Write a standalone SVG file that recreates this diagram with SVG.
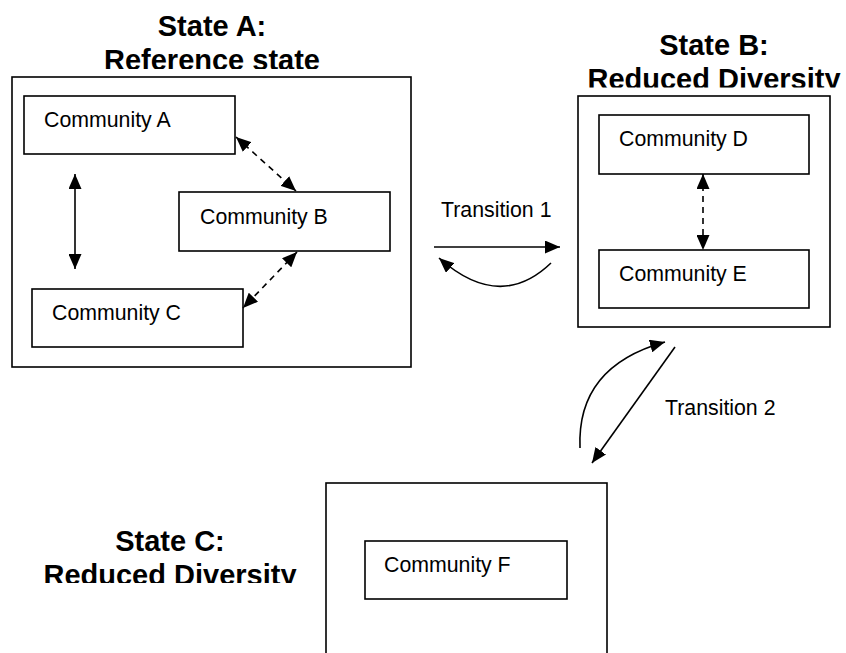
<svg xmlns="http://www.w3.org/2000/svg" width="846" height="653" viewBox="0 0 846 653">
  <style>
    .frame { fill: #fff; stroke: #000; stroke-width: 1.6; }
    .box { fill: #fff; stroke: #000; stroke-width: 1.6; }
    .title { font-family: "Liberation Sans", Arial, sans-serif; font-weight: bold; font-size: 29px; fill: #000; text-anchor: middle; }
    .label { font-family: "Liberation Sans", Arial, sans-serif; font-size: 21.3px; fill: #000; }
    .link { fill: none; stroke: #000; stroke-width: 1.6; }
    .dash { stroke-dasharray: 6 5; }
  </style>
  <defs>
    <marker id="head" markerUnits="userSpaceOnUse" markerWidth="16" markerHeight="13" refX="15" refY="6.5" orient="auto-start-reverse">
      <path d="M0,0 L15,6.5 L0,13 z" fill="#000"/>
    </marker>
    <clipPath id="clipA"><rect x="0" y="0" width="846" height="69"/></clipPath>
    <clipPath id="clipB"><rect x="0" y="0" width="846" height="87.5"/></clipPath>
    <clipPath id="clipC"><rect x="0" y="500" width="846" height="83"/></clipPath>
  </defs>

  <!-- State A: reference state -->
  <g id="stateA">
    <g clip-path="url(#clipA)">
      <text class="title" x="212" y="36">State A:</text>
      <text class="title" x="212" y="70">Reference state</text>
    </g>
    <rect class="frame" x="12" y="77" width="399" height="290"/>
  </g>
  <g id="communityA">
    <rect class="box" x="24" y="96" width="211" height="58"/>
    <text class="label" x="44" y="127">Community A</text>
  </g>
  <g id="communityB">
    <rect class="box" x="179" y="192" width="211" height="59"/>
    <text class="label" x="200" y="224">Community B</text>
  </g>
  <g id="communityC">
    <rect class="box" x="32" y="289" width="211" height="58"/>
    <text class="label" x="52" y="320">Community C</text>
  </g>

  <!-- State B: reduced diversity -->
  <g id="stateB">
    <g clip-path="url(#clipB)">
      <text class="title" x="714" y="55">State B:</text>
      <text class="title" x="714" y="89">Reduced Diversity</text>
    </g>
    <rect class="frame" x="578" y="96" width="252" height="231"/>
  </g>
  <g id="communityD">
    <rect class="box" x="599" y="115" width="210" height="59"/>
    <text class="label" x="619" y="146">Community D</text>
  </g>
  <g id="communityE">
    <rect class="box" x="599" y="250" width="210" height="58"/>
    <text class="label" x="619" y="281">Community E</text>
  </g>

  <!-- State C: reduced diversity -->
  <g id="stateC">
    <g clip-path="url(#clipC)">
      <text class="title" x="170" y="551">State C:</text>
      <text class="title" x="170" y="585">Reduced Diversity</text>
    </g>
    <rect class="frame" x="326" y="483" width="281" height="200"/>
  </g>
  <g id="communityF">
    <rect class="box" x="365" y="541" width="202" height="58"/>
    <text class="label" x="384" y="572">Community F</text>
  </g>

  <!-- Connectors -->
  <g id="connectors">
    <line class="link" x1="75" y1="174" x2="75" y2="269" marker-start="url(#head)" marker-end="url(#head)"/>
    <line class="link dash" x1="236" y1="137" x2="296" y2="191" marker-start="url(#head)" marker-end="url(#head)"/>
    <line class="link dash" x1="297" y1="252" x2="243" y2="308" marker-start="url(#head)" marker-end="url(#head)"/>
    <line class="link dash" x1="703" y1="174" x2="703" y2="250" marker-start="url(#head)" marker-end="url(#head)"/>

    <text class="label" x="441" y="217">Transition 1</text>
    <line class="link" x1="434" y1="247" x2="560" y2="247" marker-end="url(#head)"/>
    <path class="link" d="M551,263 Q500,312 439,258" marker-end="url(#head)"/>

    <text class="label" x="665" y="415">Transition 2</text>
    <line class="link" x1="675" y1="347" x2="592" y2="463" marker-end="url(#head)"/>
    <path class="link" d="M580,448 C578,400 600,360 665,342" marker-end="url(#head)"/>
  </g>
</svg>
